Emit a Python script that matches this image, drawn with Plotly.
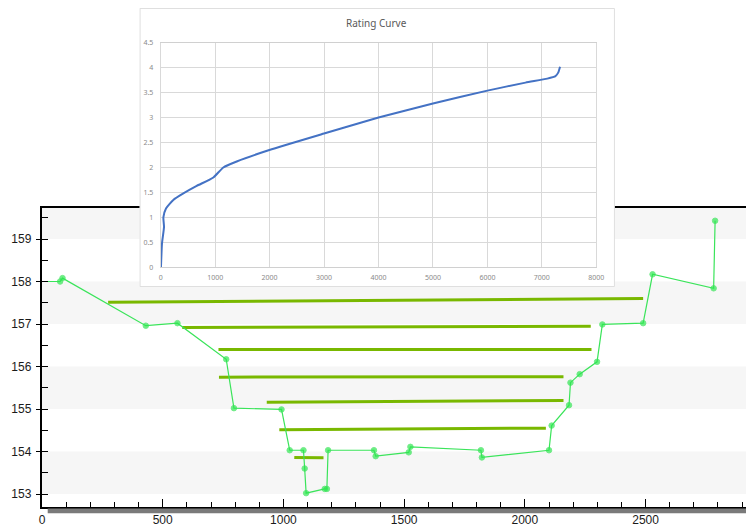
import plotly.graph_objects as go

# ---------------- data ----------------
# cross-section profile (station, elevation)
station = [0, 75, 85, 430, 561, 763, 795, 992, 1026, 1083, 1088, 1094, 1171, 1180, 1185,
           1375, 1382, 1519, 1526, 1818, 1822, 2100, 2111, 2183, 2189, 2227, 2299, 2321,
           2490, 2529, 2782, 2788]
elevation = [158.0, 158.0, 158.08, 156.96, 157.02, 156.17, 155.02, 154.99, 154.03, 154.03,
             153.6, 153.02, 153.12, 153.12, 154.03, 154.03, 153.89, 153.98, 154.11, 154.03,
             153.86, 154.03, 154.61, 155.09, 155.62, 155.82, 156.11, 156.99, 157.02, 158.17,
             157.84, 159.43]

# water-surface levels (start station, end station, start elev, end elev)
wl_x0 = [274, 581, 731, 733, 931, 983, 1045]
wl_x1 = [2490, 2273, 2276, 2160, 2160, 2087, 1166]
wl_y0 = [157.51, 156.92, 156.40, 155.75, 155.16, 154.51, 153.86]
wl_y1 = [157.60, 156.95, 156.40, 155.76, 155.20, 154.55, 153.85]

# rating curve (discharge, stage)
rc_q = [5, 24, 61, 49, 97, 232, 416, 661, 967, 1150, 1396, 1995, 3000, 4000, 5000,
        6000, 6700, 7100, 7250, 7300, 7334]
rc_h = [0.0, 0.48, 0.81, 1.0, 1.18, 1.35, 1.48, 1.63, 1.80, 2.0, 2.12, 2.35, 2.68, 3.0,
        3.28, 3.54, 3.70, 3.78, 3.83, 3.90, 4.02]

# ---------------- layout helpers ----------------
W, H = 746, 527
ML, MR, MT, MB = 42, 0, 0, 20
PW, PH = W - ML - MR, H - MT - MB


def fx(px):
    return (px - ML) / PW


def fy(py):
    return (H - MB - py) / PH


fig = go.Figure()

# background bands
shapes = []
for lo in [153, 155, 157, 159]:
    shapes.append(dict(type="rect", xref="paper", yref="y", x0=0, x1=1, y0=lo, y1=lo + 1,
                       fillcolor="#f6f6f6", line=dict(width=0), layer="below"))

# water-surface lines
for a, b, c, d in zip(wl_x0, wl_x1, wl_y0, wl_y1):
    fig.add_trace(go.Scatter(x=[a, b], y=[c, d], mode="lines",
                             line=dict(color="#79b800", width=3),
                             showlegend=False, hoverinfo="skip", xaxis="x", yaxis="y"))

# profile
msize = [0] + [5.5] * (len(station) - 1)
fig.add_trace(go.Scatter(x=station, y=elevation, mode="lines+markers",
                         line=dict(color="#3ae45a", width=1.2),
                         marker=dict(color="#2ee850", size=msize),
                         showlegend=False, xaxis="x", yaxis="y"))

# inset box (white panel)
fig.add_trace(go.Scatter(x=[0, 1, 1, 0, 0], y=[0, 0, 1, 1, 0], mode="lines",
                         fill="toself", fillcolor="white",
                         line=dict(color="#d4d4d4", width=1.5),
                         showlegend=False, hoverinfo="skip", xaxis="x2", yaxis="y2"))

# rating curve
fig.add_trace(go.Scatter(x=rc_q, y=rc_h, mode="lines",
                         line=dict(color="#4472c4", width=2, shape="spline", smoothing=0.5),
                         showlegend=False, xaxis="x3", yaxis="y3"))

# overlay axis for inner y ticks
fig.add_trace(go.Scatter(x=[None], y=[None], showlegend=False, xaxis="x", yaxis="y4"))

# gray bar under x axis
shapes.append(dict(type="rect", xref="paper", yref="paper", x0=fx(47.7), x1=1,
                   y0=fy(513.3), y1=fy(508.6), fillcolor="#7a7a7a", line=dict(width=0),
                   layer="above"))

yr = [152.694, 159.73]
main_font = dict(family="Liberation Sans, Arial", size=12, color="#1a1a1a")
small_font = dict(family="Noto Sans, Liberation Sans", size=7, color="#8a8a8a")

fig.update_layout(
    width=W, height=H,
    margin=dict(l=ML, r=MR, t=MT, b=MB, autoexpand=False),
    paper_bgcolor="white", plot_bgcolor="white",
    shapes=shapes,
    xaxis=dict(domain=[0, 1], range=[0, 2916], showgrid=False, zeroline=False, automargin=False,
               showline=True, linecolor="black", linewidth=1.5, mirror=True,
               tick0=0, dtick=500, ticks="inside", ticklen=8, tickwidth=1.2, tickcolor="black",
               minor=dict(dtick=100, ticks="inside", ticklen=5.5, tickwidth=1.2, tickcolor="black"),
               tickfont=main_font, ticklabelstandoff=1, anchor="y"),
    yaxis=dict(domain=[0, fy(208)], range=yr, showgrid=False, zeroline=False, automargin=False,
               showline=True, linecolor="black", linewidth=1.5,
               tick0=153, dtick=1, ticks="outside", ticklen=4.5, tickwidth=1.2, tickcolor="black",
               tickfont=main_font, ticklabelstandoff=2, anchor="x"),
    yaxis4=dict(overlaying="y", range=yr, anchor="x", side="left", showgrid=False,
                automargin=False, zeroline=False, showline=False, showticklabels=False,
                tick0=153, dtick=0.5, ticks="inside", ticklen=5.5, tickwidth=1.2,
                tickcolor="black"),
    xaxis2=dict(domain=[fx(139.7), fx(614.7)], range=[0, 1], visible=False, anchor="y2",
                automargin=False),
    yaxis2=dict(domain=[fy(286.7), fy(8.3)], range=[0, 1], visible=False, anchor="x2",
                automargin=False),
    xaxis3=dict(domain=[fx(160.7), fx(596.3)], range=[0, 8000], dtick=1000, tick0=0,
                showgrid=True, gridcolor="#d9d9d9", gridwidth=1, zeroline=False, automargin=False,
                showline=True, linecolor="#d0d0d0", mirror=True, ticks="",
                tickfont=small_font, ticklabelstandoff=3, anchor="y3"),
    yaxis3=dict(domain=[fy(267.3), fy(42.7)], range=[0, 4.5], dtick=0.5, tick0=0,
                showgrid=True, gridcolor="#d9d9d9", gridwidth=1, zeroline=False, automargin=False,
                showline=True, linecolor="#d9d9d9", mirror=True, ticks="",
                tickfont=small_font, ticklabelstandoff=5, anchor="x3"),
    annotations=[dict(text="Rating Curve", xref="paper", yref="paper", x=fx(376), y=fy(23.3),
                      showarrow=False, xanchor="center", yanchor="middle",
                      font=dict(family="Noto Sans, Liberation Sans", size=10, color="#595959"))],
)

fig.write_html("out.html", config={"displayModeBar": False},
               post_script="document.body.style.margin='0px';document.body.style.padding='0px';")
